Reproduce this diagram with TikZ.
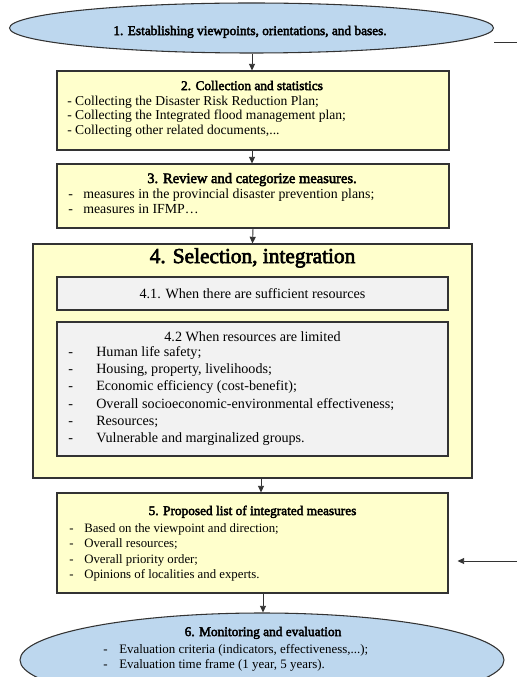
\documentclass[tikz,border=0pt]{standalone}
\usepackage{fontspec}
\setmainfont{Liberation Serif}[BoldFont={Liberation Serif},BoldFeatures={FakeBold=3}]
\usetikzlibrary{arrows.meta,fit,shapes.geometric}

\definecolor{ovalblue}{HTML}{BDD7EE}
\definecolor{boxyellow}{HTML}{FFFFCC}
\definecolor{boxgray}{HTML}{F2F2F2}
\definecolor{edge}{HTML}{333333}

% three full stops, kept out of \foreach lists
\newcommand{\tdots}{...}

\tikzset{
  px/.style={x=0.75pt,y=-0.75pt},
  oval/.style={ellipse,draw=edge,line width=0.8pt,fill=ovalblue,inner sep=0pt},
  ybox/.style={rectangle,draw=edge,line width=0.8pt,fill=boxyellow,inner sep=0pt},
  gbox/.style={rectangle,draw=edge,line width=0.8pt,fill=boxgray,inner sep=0pt},
  arr/.style={draw=edge,line width=0.7pt,-{Triangle[width=4.5pt,length=5pt]}},
  link/.style={draw=edge,line width=0.7pt},
  txt/.style={inner sep=0pt,anchor=mid west},
  ttl/.style={inner sep=0pt,anchor=mid,font=\fontsize{10}{11}\selectfont\bfseries},
  fs/.style={font=\fontsize{#1}{#1}\selectfont}
}

\begin{document}
\begin{tikzpicture}[px]
\clip (0,0) rectangle (517,677);
\fill[white] (0,0) rectangle (517,677);

% step 1: starting oval
\node[oval,minimum width=363pt,minimum height=37.5pt] (e1) at (251.5,28) {};
\node[ttl] (e1t) at (250,32) {1. Establishing viewpoints, orientations, and bases.};

% step 2
\node[ybox,fit={(57,71) (449,150)}] (b2) {};
\node[ttl] (b2t) at (252,87) {2. Collection and statistics};
\foreach \t [count=\i] in {{- Collecting the Disaster Risk Reduction Plan;},
    {- Collecting the Integrated flood management plan;},
    {- Collecting other related documents,\tdots}}
  \node[txt,fs=10.2] (b2l\i) at (67,87.5+14.5*\i) {\t};

% step 3
\node[ybox,fit={(57,164) (449,228)}] (b3) {};
\node[ttl,font=\fontsize{10.9}{12}\selectfont\bfseries] (b3t) at (252,180) {3. Review and categorize measures.};
\foreach \t [count=\i] in {{measures in the provincial disaster prevention plans;},
    {measures in IFMP…}}
  {\node[txt,fs=10.4] (b3d\i) at (68,180+15*\i) {-};
   \node[txt,fs=10.4] (b3l\i) at (83,180+15*\i) {\t};}

% step 4 with its two cases
\node[ybox,fit={(33,244) (472,478)}] (b4) {};
\node[inner sep=0pt,anchor=mid,font=\fontsize{16}{18}\selectfont\bfseries] (b4t) at (252.5,260) {4. Selection, integration};
\node[gbox,fit={(57,277) (448,310)}] (b41) {};
\node[inner sep=0pt,anchor=mid,fs=10.6] (b41t) at (252.5,295) {4.1. When there are sufficient resources};
\node[gbox,fit={(57,322) (448,456)}] (b42) {};
\node[inner sep=0pt,anchor=mid,fs=10.6] (b42t) at (252.5,338) {4.2 When resources are limited};
\foreach \t [count=\i] in {{Human life safety;},
    { Housing, property, livelihoods;},
    {Economic efficiency (cost-benefit);},
    {Overall socioeconomic-environmental effectiveness;},
    {Resources;},
    {Vulnerable and marginalized groups.}}
  {\node[txt,fs=10.6] (b42d\i) at (68,336+17.3*\i) {-};
   \node[txt,fs=10.6] (b42l\i) at (96,336+17.3*\i) {\t};}

% step 5
\node[ybox,fit={(57,493) (448,593)}] (b5) {};
\node[ttl] (b5t) at (252.5,512) {5. Proposed list of integrated measures};
\foreach \t [count=\i] in {{Based on the viewpoint and direction;},
    {Overall resources;},
    {Overall priority order;},
    {Opinions of localities and experts.}}
  {\node[txt,fs=9.6] (b5d\i) at (69,513.5+15.6*\i) {-};
   \node[txt,fs=9.6] (b5l\i) at (84,513.5+15.6*\i) {\t};}

% step 6: closing oval
\node[oval,minimum width=363pt,minimum height=70.5pt] (e6) at (262,660) {};
\node[ttl] (e6t) at (263,633) {6. Monitoring and evaluation};
\foreach \t [count=\i] in {{Evaluation criteria (indicators, effectiveness,\tdots);},
    {Evaluation time frame (1 year, 5 years).}}
  {\node[txt,fs=9.7] (e6d\i) at (103,635+15*\i) {-};
   \node[txt,fs=9.7] (e6l\i) at (119,635+15*\i) {\t};}

% vertical flow
\coordinate (x12) at (252,0);
\coordinate (x45) at (261,0);
\coordinate (x56) at (263,0);
\draw[arr] (e1.south -| x12) -- (b2.north -| x12);
\draw[arr] (b2.south -| x12) -- (b3.north -| x12);
\draw[arr] (b3.south) -- (b4.north);
\draw[arr] (b4.south -| x45) -- (b5.north -| x45);
\draw[arr] (b5.south -| x56) -- (e6.north -| x56);

% side connectors
\coordinate (r1) at (517,42);
\coordinate (r5) at (517,561);
\draw[link] (e1.east |- r1) -- (r1);
\draw[arr] (r5) -- ([xshift=6.75pt]b5.east |- r5);
\end{tikzpicture}
\end{document}
